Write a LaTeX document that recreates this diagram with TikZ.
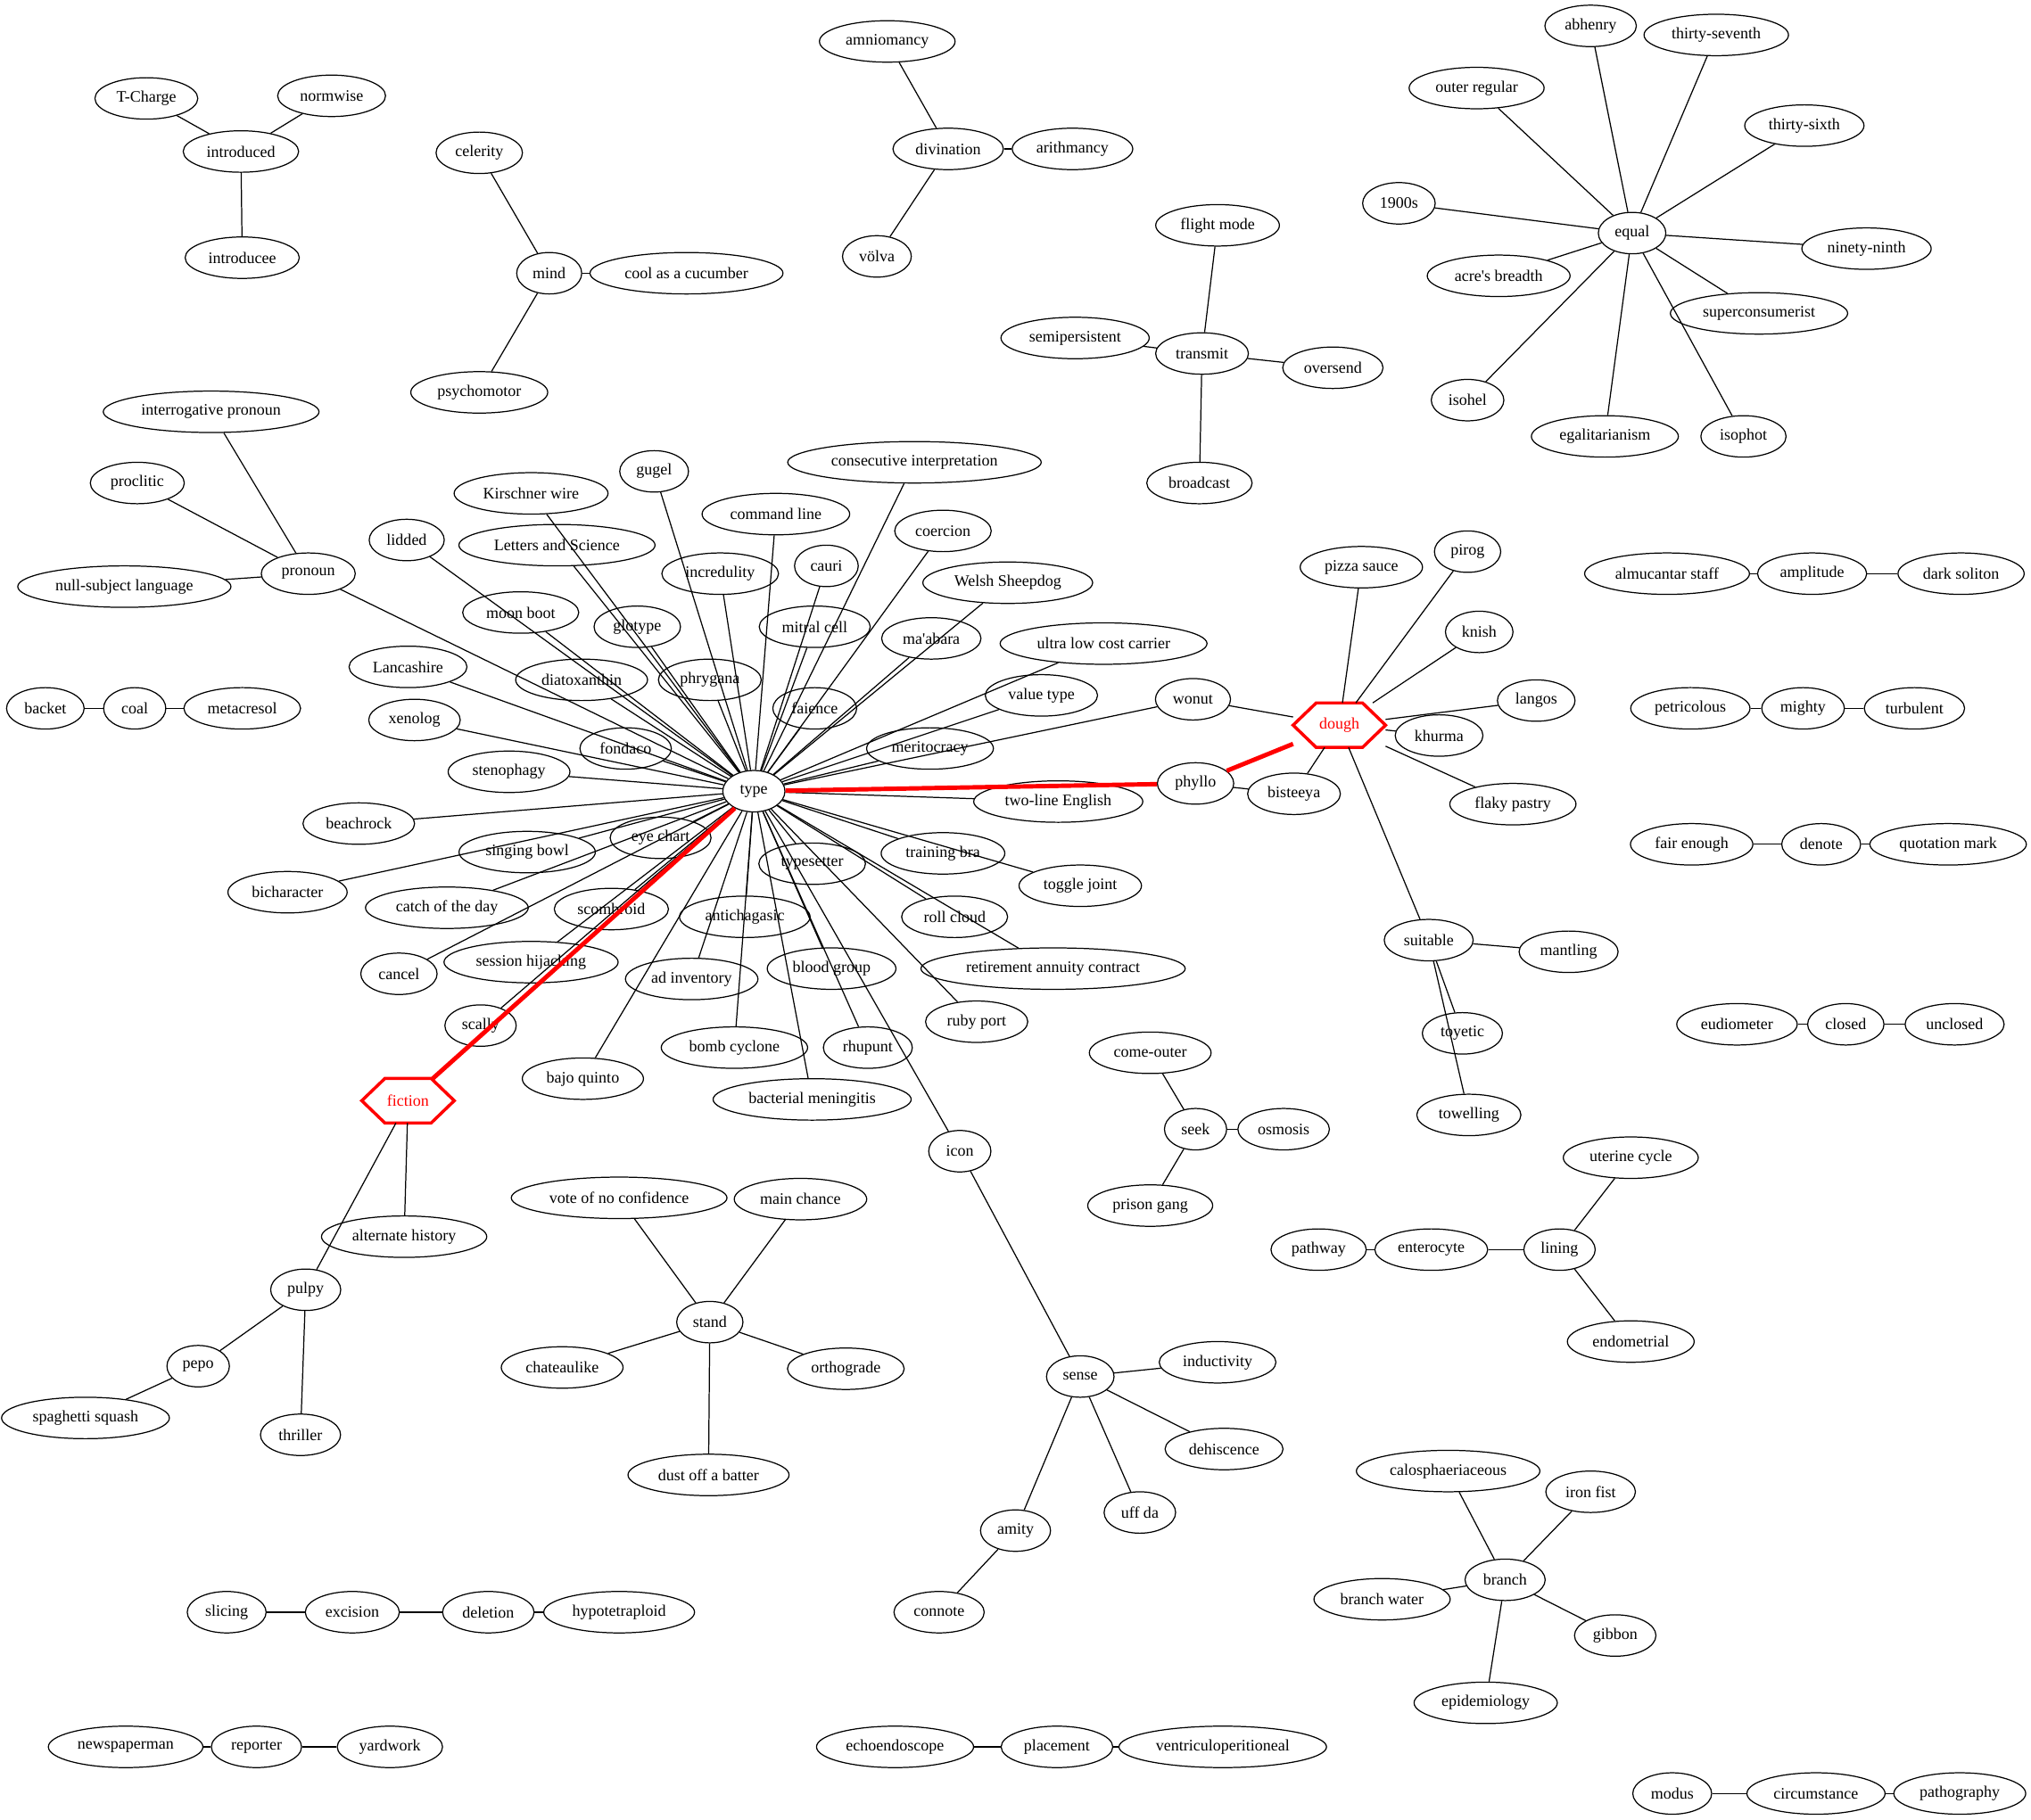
\documentclass[tikz,border=0pt]{standalone}
\usepackage{fontspec}
\setmainfont{Liberation Serif}
\usetikzlibrary{shapes.geometric,calc}

\newcommand{\hexframe}[1]{%
  \draw[hexline] (#1.west) -- ($(#1.north west)!.25!(#1.north east)$)
    -- ($(#1.north west)!.75!(#1.north east)$) -- (#1.east)
    -- ($(#1.south west)!.75!(#1.south east)$)
    -- ($(#1.south west)!.25!(#1.south east)$) -- cycle;}

\begin{document}
\begin{tikzpicture}[x=1pt,y=-1pt,
  every node/.style={font=\fontsize{12.4}{14}\selectfont},
  word/.style={ellipse,draw,line width=0.85pt,inner xsep=5pt,inner ysep=0pt,
    minimum height=32pt,minimum width=48pt},
  hexword/.style={rectangle,inner sep=0pt,minimum width=71pt,minimum height=34pt,text=red},
  hexline/.style={draw=red,line width=2.4pt,line join=miter},
  conn/.style={line width=0.85pt},
  hotconn/.style={draw=red,line width=3.4pt}]
  \useasboundingbox (0,0) rectangle (1568,1405);

  \node[word] (tcharge) at (113,76) {T-Charge};
  \node[word] (normwise) at (256,74) {normwise};
  \node[word] (introduced) at (186,117) {introduced};
  \node[word] (introducee) at (187,199) {introducee};
  \draw[conn] (introduced) -- (tcharge);
  \draw[conn] (introduced) -- (normwise);
  \draw[conn] (introduced) -- (introducee);

  \node[word] (celerity) at (370,118) {celerity};
  \node[word] (mind) at (424,211) {mind};
  \node[word] (cucumber) at (530,211) {cool as a cucumber};
  \node[word] (psychomotor) at (370,303) {psychomotor};
  \draw[conn] (mind) -- (celerity);
  \draw[conn] (mind) -- (cucumber);
  \draw[conn] (mind) -- (psychomotor);

  \node[word] (amniomancy) at (685,32) {amniomancy};
  \node[word] (divination) at (732,115) {divination};
  \node[word] (arithmancy) at (828,115) {arithmancy};
  \node[word] (volva) at (677,198) {völva};
  \draw[conn] (divination) -- (amniomancy);
  \draw[conn] (divination) -- (arithmancy);
  \draw[conn] (divination) -- (volva);

  \node[word] (flightmode) at (940,174) {flight mode};
  \node[word] (semipersistent) at (830,261) {semipersistent};
  \node[word] (transmit) at (928,273) {transmit};
  \node[word] (oversend) at (1029,284) {oversend};
  \node[word] (broadcast) at (926,373) {broadcast};
  \draw[conn] (transmit) -- (flightmode);
  \draw[conn] (transmit) -- (semipersistent);
  \draw[conn] (transmit) -- (oversend);
  \draw[conn] (transmit) -- (broadcast);

  \node[word] (abhenry) at (1228,20) {abhenry};
  \node[word] (thirtyseventh) at (1325,27) {thirty-seventh};
  \node[word] (outerregular) at (1140,68) {outer regular};
  \node[word] (thirtysixth) at (1393,97) {thirty-sixth};
  \node[word] (nineteenhundreds) at (1080,157) {1900s};
  \node[word] (equal) at (1260,180) {equal};
  \node[word] (ninetyninth) at (1441,192) {ninety-ninth};
  \node[word] (acresbreadth) at (1157,213) {acre\textquotesingle s breadth};
  \node[word] (superconsumerist) at (1358,242) {superconsumerist};
  \node[word] (isohel) at (1133,309) {isohel};
  \node[word] (egalitarianism) at (1239,337) {egalitarianism};
  \node[word] (isophot) at (1346,337) {isophot};
  \draw[conn] (equal) -- (abhenry);
  \draw[conn] (equal) -- (thirtyseventh);
  \draw[conn] (equal) -- (outerregular);
  \draw[conn] (equal) -- (thirtysixth);
  \draw[conn] (equal) -- (nineteenhundreds);
  \draw[conn] (equal) -- (ninetyninth);
  \draw[conn] (equal) -- (acresbreadth);
  \draw[conn] (equal) -- (superconsumerist);
  \draw[conn] (equal) -- (isohel);
  \draw[conn] (equal) -- (egalitarianism);
  \draw[conn] (equal) -- (isophot);

  \node[word] (interrogative) at (163,318) {interrogative pronoun};
  \node[word] (proclitic) at (106,373) {proclitic};
  \node[word] (nullsubject) at (96,453) {null-subject language};
  \node[word] (pronoun) at (238,443) {pronoun};
  \draw[conn] (pronoun) -- (interrogative);
  \draw[conn] (pronoun) -- (proclitic);
  \draw[conn] (pronoun) -- (nullsubject);

  \node[word] (backet) at (35,547) {backet};
  \node[word] (coal) at (104,547) {coal};
  \node[word] (metacresol) at (187,547) {metacresol};
  \draw[conn] (coal) -- (backet);
  \draw[conn] (coal) -- (metacresol);

  \node[word] (type) at (582,611) {type};
  \node[word] (gugel) at (505,364) {gugel};
  \node[word] (kirschner) at (410,381) {Kirschner wire};
  \node[word] (letters) at (430,421) {Letters and Science};
  \node[word] (lidded) at (314,417) {lidded};
  \node[word] (incredulity) at (556,443) {incredulity};
  \node[word] (commandline) at (599,397) {command line};
  \node[word] (consecutive) at (706,357) {consecutive interpretation};
  \node[word] (cauri) at (638,437) {cauri};
  \node[word] (coercion) at (728,410) {coercion};
  \node[word] (welsh) at (778,450) {Welsh Sheepdog};
  \node[word] (moonboot) at (402,473) {moon boot};
  \node[word] (glotype) at (492,484) {glotype};
  \node[word] (mitral) at (629,484) {mitral cell};
  \node[word] (maabara) at (719,493) {ma\textquotesingle abara};
  \node[word] (ulcc) at (852,497) {ultra low cost carrier};
  \node[word] (lancashire) at (315,515) {Lancashire};
  \node[word] (diatoxanthin) at (449,525) {diatoxanthin};
  \node[word] (phrygana) at (548,525) {phrygana};
  \node[word] (faience) at (629,547) {faience};
  \node[word] (valuetype) at (804,537) {value type};
  \node[word] (wonut) at (921,540) {wonut};
  \node[word] (xenolog) at (320,556) {xenolog};
  \node[word] (fondaco) at (483,578) {fondaco};
  \node[word] (meritocracy) at (718,578) {meritocracy};
  \node[word] (stenophagy) at (393,596) {stenophagy};
  \node[word] (beachrock) at (277,636) {beachrock};
  \node[word] (singingbowl) at (407,658) {singing bowl};
  \node[word] (eyechart) at (510,647) {eye chart};
  \node[word] (bicharacter) at (222,689) {bicharacter};
  \node[word] (catchday) at (345,701) {catch of the day};
  \node[word] (scombroid) at (472,702) {scombroid};
  \node[word] (antichagasic) at (575,708) {antichagasic};
  \node[word] (typesetter) at (627,667) {typesetter};
  \node[word] (trainingbra) at (728,659) {training bra};
  \node[word] (togglejoint) at (834,684) {toggle joint};
  \node[word] (twoline) at (817,619) {two-line English};
  \node[word] (phyllo) at (923,605) {phyllo};
  \node[word] (rollcloud) at (737,708) {roll cloud};
  \node[word] (retirement) at (813,748) {retirement annuity contract};
  \node[word] (bloodgroup) at (642,748) {blood group};
  \node[word] (cancel) at (308,752) {cancel};
  \node[word] (hijacking) at (410,743) {session hijacking};
  \node[word] (adinventory) at (534,756) {ad inventory};
  \node[word] (scally) at (371,792) {scally};
  \node[word] (bombcyclone) at (567,809) {bomb cyclone};
  \node[word] (rhupunt) at (670,809) {rhupunt};
  \node[word] (rubyport) at (754,789) {ruby port};
  \node[word] (bajoquinto) at (450,833) {bajo quinto};
  \node[word] (meningitis) at (627,849) {bacterial meningitis};
  \node[word] (icon) at (741,889) {icon};
  \node[hexword] (fiction) at (315,850) {fiction};
  \hexframe{fiction}
  \draw[conn] (type) -- (pronoun);
  \draw[conn] (type) -- (gugel);
  \draw[conn] (type) -- (kirschner);
  \draw[conn] (type) -- (letters);
  \draw[conn] (type) -- (lidded);
  \draw[conn] (type) -- (incredulity);
  \draw[conn] (type) -- (commandline);
  \draw[conn] (type) -- (consecutive);
  \draw[conn] (type) -- (cauri);
  \draw[conn] (type) -- (coercion);
  \draw[conn] (type) -- (welsh);
  \draw[conn] (type) -- (moonboot);
  \draw[conn] (type) -- (glotype);
  \draw[conn] (type) -- (mitral);
  \draw[conn] (type) -- (maabara);
  \draw[conn] (type) -- (ulcc);
  \draw[conn] (type) -- (lancashire);
  \draw[conn] (type) -- (diatoxanthin);
  \draw[conn] (type) -- (phrygana);
  \draw[conn] (type) -- (faience);
  \draw[conn] (type) -- (valuetype);
  \draw[conn] (type) -- (wonut);
  \draw[conn] (type) -- (xenolog);
  \draw[conn] (type) -- (fondaco);
  \draw[conn] (type) -- (meritocracy);
  \draw[conn] (type) -- (stenophagy);
  \draw[conn] (type) -- (beachrock);
  \draw[conn] (type) -- (singingbowl);
  \draw[conn] (type) -- (eyechart);
  \draw[conn] (type) -- (bicharacter);
  \draw[conn] (type) -- (catchday);
  \draw[conn] (type) -- (scombroid);
  \draw[conn] (type) -- (antichagasic);
  \draw[conn] (type) -- (typesetter);
  \draw[conn] (type) -- (trainingbra);
  \draw[conn] (type) -- (togglejoint);
  \draw[conn] (type) -- (twoline);
  \draw[conn] (type) -- (rollcloud);
  \draw[conn] (type) -- (retirement);
  \draw[conn] (type) -- (bloodgroup);
  \draw[conn] (type) -- (cancel);
  \draw[conn] (type) -- (hijacking);
  \draw[conn] (type) -- (adinventory);
  \draw[conn] (type) -- (scally);
  \draw[conn] (type) -- (bombcyclone);
  \draw[conn] (type) -- (rhupunt);
  \draw[conn] (type) -- (rubyport);
  \draw[conn] (type) -- (bajoquinto);
  \draw[conn] (type) -- (meningitis);
  \draw[conn] (type) -- (icon);
  \draw[hotconn] (type) -- (fiction);
  \draw[hotconn] (type) -- (phyllo);

  \node[hexword] (dough) at (1034,560) {dough};
  \hexframe{dough}
  \node[word] (pizzasauce) at (1051,438) {pizza sauce};
  \node[word] (pirog) at (1133,426) {pirog};
  \node[word] (knish) at (1142,488) {knish};
  \node[word] (langos) at (1186,541) {langos};
  \node[word] (khurma) at (1111,568) {khurma};
  \node[word] (flakypastry) at (1168,621) {flaky pastry};
  \node[word] (bisteeya) at (999,613) {bisteeya};
  \node[word] (suitable) at (1103,726) {suitable};
  \node[word] (mantling) at (1211,735) {mantling};
  \node[word] (toyetic) at (1129,798) {toyetic};
  \node[word] (towelling) at (1134,861) {towelling};
  \draw[hotconn] (phyllo) -- (dough);
  \draw[conn] (phyllo) -- (bisteeya);
  \draw[conn] (dough) -- (wonut);
  \draw[conn] (dough) -- (pizzasauce);
  \draw[conn] (dough) -- (pirog);
  \draw[conn] (dough) -- (knish);
  \draw[conn] (dough) -- (langos);
  \draw[conn] (dough) -- (khurma);
  \draw[conn] (dough) -- (flakypastry);
  \draw[conn] (dough) -- (bisteeya);
  \draw[conn] (dough) -- (suitable);
  \draw[conn] (suitable) -- (mantling);
  \draw[conn] (suitable) -- (toyetic);
  \draw[conn] (suitable) -- (towelling);

  \node[word] (almucantar) at (1287,443) {almucantar staff};
  \node[word] (amplitude) at (1399,443) {amplitude};
  \node[word] (darksoliton) at (1514,443) {dark soliton};
  \node[word] (petricolous) at (1305,547) {petricolous};
  \node[word] (mighty) at (1392,547) {mighty};
  \node[word] (turbulent) at (1478,547) {turbulent};
  \node[word] (fairenough) at (1306,652) {fair enough};
  \node[word] (denote) at (1406,652) {denote};
  \node[word] (quotationmark) at (1504,652) {quotation mark};
  \node[word] (eudiometer) at (1341,791) {eudiometer};
  \node[word] (closed) at (1425,791) {closed};
  \node[word] (unclosed) at (1509,791) {unclosed};
  \draw[conn] (amplitude) -- (almucantar);
  \draw[conn] (amplitude) -- (darksoliton);
  \draw[conn] (mighty) -- (petricolous);
  \draw[conn] (mighty) -- (turbulent);
  \draw[conn] (denote) -- (fairenough);
  \draw[conn] (denote) -- (quotationmark);
  \draw[conn] (closed) -- (eudiometer);
  \draw[conn] (closed) -- (unclosed);

  \node[word] (comeouter) at (888,813) {come-outer};
  \node[word] (seek) at (923,872) {seek};
  \node[word] (osmosis) at (991,872) {osmosis};
  \node[word] (prisongang) at (888,931) {prison gang};
  \draw[conn] (seek) -- (comeouter);
  \draw[conn] (seek) -- (osmosis);
  \draw[conn] (seek) -- (prisongang);

  \node[word] (uterine) at (1259,894) {uterine cycle};
  \node[word] (pathway) at (1018,965) {pathway};
  \node[word] (enterocyte) at (1105,965) {enterocyte};
  \node[word] (lining) at (1204,965) {lining};
  \node[word] (endometrial) at (1259,1036) {endometrial};
  \draw[conn] (enterocyte) -- (pathway);
  \draw[conn] (enterocyte) -- (lining);
  \draw[conn] (lining) -- (uterine);
  \draw[conn] (lining) -- (endometrial);

  \node[word] (althistory) at (312,955) {alternate history};
  \node[word] (pulpy) at (236,996) {pulpy};
  \node[word] (pepo) at (153,1055) {pepo};
  \node[word] (spaghetti) at (66,1095) {spaghetti squash};
  \node[word] (thriller) at (232,1108) {thriller};
  \draw[conn] (fiction) -- (althistory);
  \draw[conn] (fiction) -- (pulpy);
  \draw[conn] (pulpy) -- (pepo);
  \draw[conn] (pulpy) -- (thriller);
  \draw[conn] (pepo) -- (spaghetti);

  \node[word] (noconfidence) at (478,925) {vote of no confidence};
  \node[word] (mainchance) at (618,926) {main chance};
  \node[word] (stand) at (548,1021) {stand};
  \node[word] (chateaulike) at (434,1056) {chateaulike};
  \node[word] (orthograde) at (653,1057) {orthograde};
  \node[word] (dustoff) at (547,1139) {dust off a batter};
  \draw[conn] (stand) -- (noconfidence);
  \draw[conn] (stand) -- (mainchance);
  \draw[conn] (stand) -- (chateaulike);
  \draw[conn] (stand) -- (orthograde);
  \draw[conn] (stand) -- (dustoff);

  \node[word] (sense) at (834,1063) {sense};
  \node[word] (inductivity) at (940,1052) {inductivity};
  \node[word] (dehiscence) at (945,1119) {dehiscence};
  \node[word] (uffda) at (880,1168) {uff da};
  \node[word] (amity) at (784,1182) {amity};
  \node[word] (connote) at (725,1245) {connote};
  \draw[conn] (icon) -- (sense);
  \draw[conn] (sense) -- (inductivity);
  \draw[conn] (sense) -- (dehiscence);
  \draw[conn] (sense) -- (uffda);
  \draw[conn] (sense) -- (amity);
  \draw[conn] (amity) -- (connote);

  \node[word] (calosphaeriaceous) at (1118,1136) {calosphaeriaceous};
  \node[word] (ironfist) at (1228,1152) {iron fist};
  \node[word] (branch) at (1162,1220) {branch};
  \node[word] (branchwater) at (1067,1235) {branch water};
  \node[word] (gibbon) at (1247,1263) {gibbon};
  \node[word] (epidemiology) at (1147,1315) {epidemiology};
  \draw[conn] (branch) -- (calosphaeriaceous);
  \draw[conn] (branch) -- (ironfist);
  \draw[conn] (branch) -- (branchwater);
  \draw[conn] (branch) -- (gibbon);
  \draw[conn] (branch) -- (epidemiology);

  \node[word] (slicing) at (175,1245) {slicing};
  \node[word] (excision) at (272,1245) {excision};
  \node[word] (deletion) at (377,1245) {deletion};
  \node[word] (hypotetraploid) at (478,1245) {hypotetraploid};
  \draw[conn] (excision) -- (slicing);
  \draw[conn] (excision) -- (deletion);
  \draw[conn] (deletion) -- (hypotetraploid);

  \node[word] (newspaperman) at (97,1349) {newspaperman};
  \node[word] (reporter) at (198,1349) {reporter};
  \node[word] (yardwork) at (301,1349) {yardwork};
  \draw[conn] (reporter) -- (newspaperman);
  \draw[conn] (reporter) -- (yardwork);

  \node[word] (echoendoscope) at (691,1349) {echoendoscope};
  \node[word] (placement) at (816,1349) {placement};
  \node[word] (ventriculo) at (944,1349) {ventriculoperitioneal};
  \draw[conn] (placement) -- (echoendoscope);
  \draw[conn] (placement) -- (ventriculo);

  \node[word] (modus) at (1291,1385) {modus};
  \node[word] (circumstance) at (1402,1385) {circumstance};
  \node[word] (pathography) at (1513,1385) {pathography};
  \draw[conn] (circumstance) -- (modus);
  \draw[conn] (circumstance) -- (pathography);
\end{tikzpicture}
\end{document}
